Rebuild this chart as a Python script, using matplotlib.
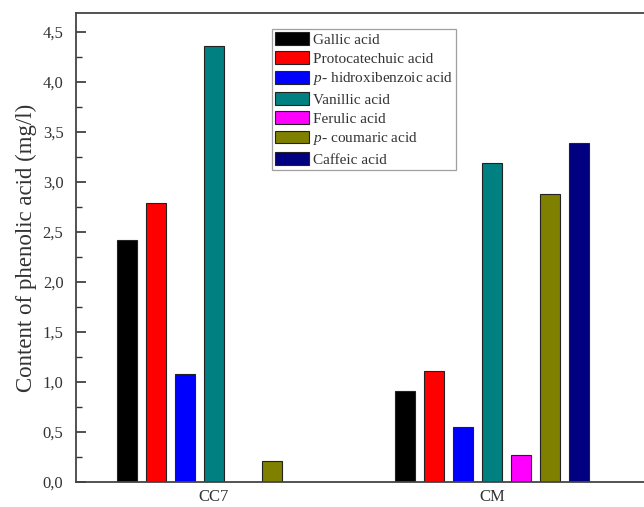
import matplotlib.pyplot as plt
import numpy as np

import matplotlib as mpl
mpl.rcParams['font.family'] = 'Liberation Serif'
mpl.rcParams['mathtext.fontset'] = 'custom'
mpl.rcParams['mathtext.it'] = 'Liberation Serif:italic'
mpl.rcParams['mathtext.rm'] = 'Liberation Serif'

samples = ["CC7", "CM"]
acids = ["Gallic acid", "Protocatechuic acid", r"$\it{p}$- hidroxibenzoic acid",
         "Vanillic acid", "Ferulic acid", r"$\it{p}$- coumaric acid", "Caffeic acid"]
colors = ["#000000", "#ff0000", "#0000ff", "#008080", "#ff00ff", "#808000", "#000080"]

# mg/l per acid, one list per sample (nan = not detected)
cc7 = [2.42, 2.79, 1.08, 4.36, np.nan, 0.21, np.nan]
cm = [0.91, 1.11, 0.55, 3.19, 0.27, 2.88, 3.39]

f = plt.figure(figsize=(6.44, 5.07), dpi=100)
ax = f.add_axes([0.118, 0.0493, 0.907, 0.925])

x = np.arange(1, len(samples) + 1)
pitch = 0.104
width = 0.072
for i, (name, c) in enumerate(zip(acids, colors)):
    vals = np.array([cc7[i], cm[i]])
    ax.bar(x + (i - 3) * pitch, vals, width, color=c, edgecolor="#222222",
           lw=0.8, label=name)

ax.set_xlim(0.504, 2.604)
ax.set_ylim(0, 4.69)
ax.set_xticks(x, samples)
ax.tick_params(axis="x", length=0, labelsize=12, pad=5)

yt = np.arange(0, 4.51, 0.5)
ax.set_yticks(yt, [f"{v:.1f}".replace(".", ",") for v in yt])
ax.set_yticks(np.arange(0.25, 4.6, 0.5), minor=True)
ax.tick_params(axis="y", direction="in", length=7, width=1.2, labelsize=12,
               colors="#333333", labelcolor="#333333", pad=9)
ax.tick_params(axis="y", which="minor", direction="in", length=4, width=1.0,
               colors="#333333")
ax.tick_params(axis="x", labelcolor="#333333")

for s in ax.spines.values():
    s.set_color("#444444")
    s.set_linewidth(1.3)

ax.set_ylabel("Content of phenolic acid (mg/l)", fontsize=16.5, color="#333333",
              labelpad=4)

leg = ax.legend(loc="upper left", bbox_to_anchor=(272 / 644, 1 - 29 / 507),
                bbox_transform=f.transFigure, fontsize=11, frameon=True,
                fancybox=False, edgecolor="#888888", borderpad=0.2,
                borderaxespad=0, handlelength=2.2, handleheight=0.9,
                handletextpad=0.3, labelspacing=0.3)
leg.get_frame().set_linewidth(0.9)
for t in leg.get_texts():
    t.set_color("#333333")

f.savefig("out.png", dpi=100)
